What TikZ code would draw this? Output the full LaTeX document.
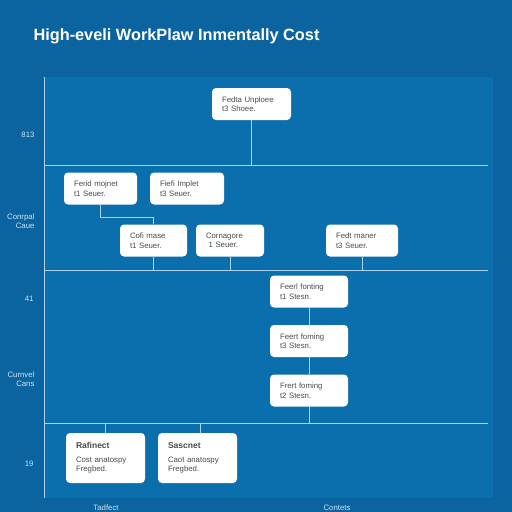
\documentclass[tikz,border=0pt]{standalone}
\usepackage{fontspec}
\setmainfont{Liberation Sans}
\usetikzlibrary{positioning}
\definecolor{fondext}{HTML}{0B64A0}
\definecolor{fondint}{HTML}{0B6FAD}
\definecolor{trait}{HTML}{A9D3EE}
\definecolor{texte}{HTML}{4A4A4A}

\begin{document}
\begin{tikzpicture}[x=1pt,y=-1pt,
        boite/.style={fill=white, rounded corners=4pt, text width=#1, inner xsep=10pt, minimum height=32pt, align=left, text=texte, font=\fontsize{7.8}{9.5}\selectfont},%boites blanches
        boite/.default=54pt,
        ligne/.style={draw=trait, line width=0.8pt},%traits du tableau
        etiq/.style={text=trait!60!white, font=\fontsize{7.8}{9}\selectfont, align=right, anchor=east}]%etiquettes a gauche
    \useasboundingbox (0,0) rectangle (512,512);
    \fill[fondext] (0,0) rectangle (512,512);
    \fill[fondint] (44,77) rectangle (493,498);
    \node[anchor=west, text=white, font=\bfseries\fontsize{16.3}{18}\selectfont] (titre) at (30,36) {High-eveli WorkPlaw Inmentally Cost};

    % axes
    \coordinate (haut) at (44,77);
    \coordinate (bas) at (44,498);
    \coordinate (l1) at (44,165);
    \coordinate (l1e) at (488,165);
    \coordinate (l2) at (44,270);
    \coordinate (l2e) at (488,270);
    \coordinate (l3) at (44,423);
    \coordinate (l3e) at (488,423);
    \draw[ligne] (haut) -- (bas);
    \draw[ligne] (l1) -- (l1e);
    \draw[ligne] (l2) -- (l2e);
    \draw[ligne] (l3) -- (l3e);

    % boites
    \node[boite=59pt] (b1) at (251.5,104) {Fedta Unploee\\ t3 Shoee.};
    \node[boite=53pt] (r2a) at (100.5,188.5) {Ferid mojnet\\ t1 Seuer.};
    \node[boite=54pt] (r2b) at (187,188.5) {Fiefi Implet\\ t3 Seuer.};
    \node[boite=47pt] (r3a) at (153.5,240.5) {Cofi mase\\ t1 Seuer.};
    \node[boite=48pt] (r3b) at (230,240.5) {Cornagore\\ \ 1 Seuer.};
    \node[boite=52pt] (r3c) at (362,240.5) {Fedt maner\\ t3 Seuer.};
    \node[boite=58pt] (f1) at (309,291.5) {Feerl fonting\\ t1 Stesn.};
    \node[boite=58pt] (f2) at (309,341) {Feert foming\\ t3 Stesn.};
    \node[boite=58pt] (f3) at (309,390.5) {Frert foming\\ t2 Stesn.};
    \node[boite=59pt, minimum height=50pt] (g1) at (105.5,458) {\textbf{\fontsize{8.5}{9.5}\selectfont Rafinect}\\[4pt] Cost anatospy\\ Fregbed.};
    \node[boite=59pt, minimum height=50pt] (g2) at (197.5,458) {\textbf{\fontsize{8.5}{9.5}\selectfont Sascnet}\\[4pt] Caot anatospy\\ Fregbed.};

    % liaisons
    \draw[ligne] (b1.south) -- (b1.south |- l1);
    \draw[ligne] (r2a.south) -- ++(0,13) -| (r3a.north);
    \draw[ligne] (r3a.south) -- (r3a.south |- l2);
    \draw[ligne] (r3b.south) -- (r3b.south |- l2);
    \draw[ligne] (r3c.south) -- (r3c.south |- l2);
    \draw[ligne] (f1) -- (f2);
    \draw[ligne] (f2) -- (f3);
    \draw[ligne] (f3.south) -- (f3.south |- l3);
    \draw[ligne] (g1.north |- l3) -- (g1.north);
    \draw[ligne] ([xshift=2.5pt]g2.north |- l3) -- ([xshift=2.5pt]g2.north);

    % etiquettes
    \node[etiq] (e1) at (38,135) {813};
    \node[etiq] (e2) at (38,221) {Conrpal\\Caue};
    \node[etiq] (e3) at (37,299) {41};
    \node[etiq] (e4) at (38,379) {Curnvel\\Cans};
    \node[etiq] (e5) at (37,464) {19};
    \node[text=trait!60!white, font=\fontsize{7.8}{9}\selectfont] (x1) at (106,508) {Tadfect};
    \node[text=trait!60!white, font=\fontsize{7.8}{9}\selectfont] (x2) at (337,508) {Contets};
\end{tikzpicture}
\end{document}
